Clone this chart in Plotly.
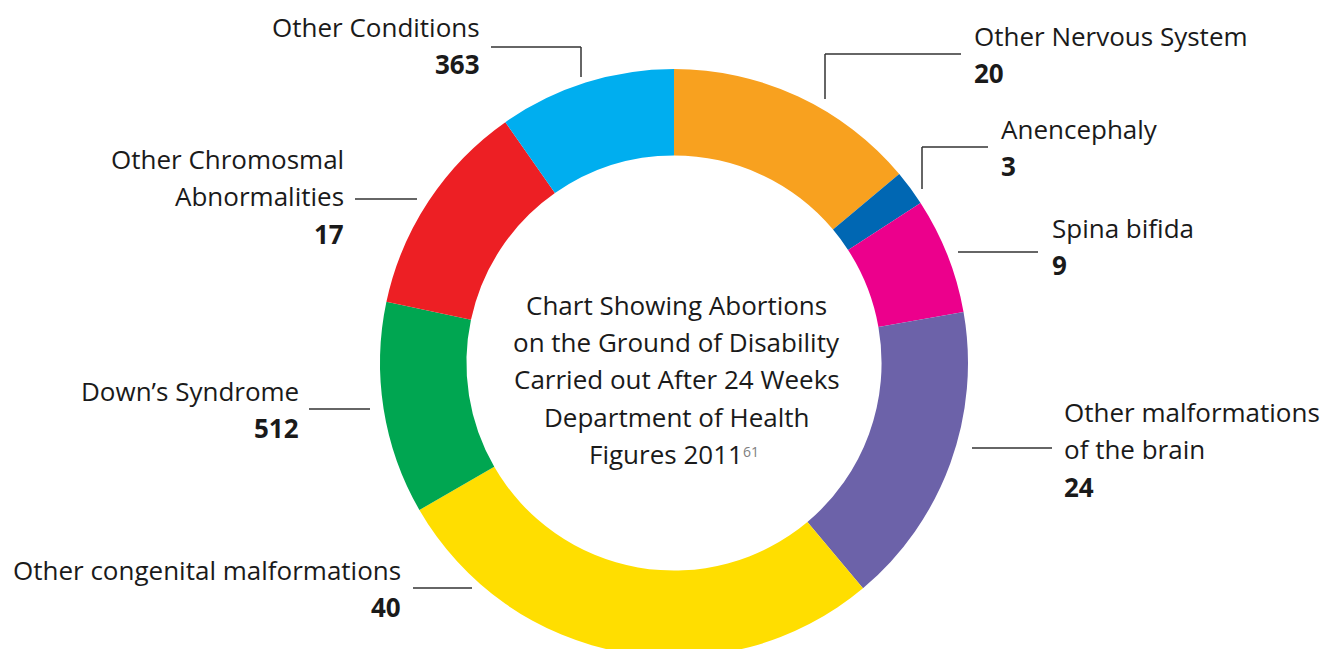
import plotly.graph_objects as go

# ---- data ----
categories = ["Other Nervous System", "Anencephaly", "Spina bifida",
              "Other malformations of the brain", "Other congenital malformations",
              "Down\u2019s Syndrome", "Other Chromosmal Abnormalities", "Other Conditions"]
counts = [20, 3, 9, 24, 40, 512, 17, 363]
# slice sizes as drawn in the picture (degrees of arc, clockwise from 12 o'clock)
slice_degrees = [50, 7, 23, 60, 100, 42, 43, 35]
label_lines = [["Other Nervous System"], ["Anencephaly"], ["Spina bifida"],
               ["Other malformations", "of the brain"], ["Other congenital malformations"],
               ["Down\u2019s Syndrome"], ["Other Chromosmal", "Abnormalities"], ["Other Conditions"]]
colors = ["#F8A11F", "#0067B3", "#EC008C", "#6C62A9", "#FFDE00", "#00A651", "#ED1F24", "#00AEEF"]
title_lines = ["Chart Showing Abortions", "on the Ground of Disability",
               "Carried out After 24 Weeks", "Department of Health", "Figures 2011"]
footnote = "61"

W, H = 1322, 658
FONT = "Open Sans"
FS = 26
LINE = 37.3
TXT = "#1a1a1a"

def px(x):
    return x / W

def py(y):
    return 1 - y / H

cx, cy, R = 674, 363, 294

fig = go.Figure(go.Pie(
    labels=categories, values=slice_degrees, customdata=counts,
    sort=False, direction="clockwise", rotation=0, hole=0.706,
    marker=dict(colors=colors, line=dict(width=0)),
    textinfo="none", showlegend=False,
    hovertemplate="%{label}: %{customdata}<extra></extra>",
    domain=dict(x=[px(cx - R), px(cx + R)], y=[py(cy + R), py(cy - R)]),
))

# label layout: (side, x, first baseline, leader polyline)
layout_spec = [
    ("left", 973, 46, [(825, 99), (825, 54), (961, 54)]),
    ("left", 1000, 139, [(922, 189), (922, 147), (988, 147)]),
    ("left", 1051, 238, [(958, 252), (1038, 252)]),
    ("left", 1063, 422, [(972, 448), (1052, 448)]),
    ("right", 402, 580, [(413, 588), (472, 588)]),
    ("right", 300, 401, [(309, 409), (370, 409)]),
    ("right", 345, 169, [(355, 199), (417, 199)]),
    ("right", 481, 37, [(491, 47), (581, 47), (581, 77)]),
]

annotations = []
shapes = []
BASE_OFF = 10  # baseline to text-box middle

for lines, n, (side, x, b0, pts) in zip(label_lines, counts, layout_spec):
    for i, t in enumerate(lines + [f"<b>{n}</b>"]):
        annotations.append(dict(
            x=px(x), y=py(b0 + i * LINE - BASE_OFF), xref="paper", yref="paper",
            text=t, showarrow=False, xanchor=side, yanchor="middle",
            font=dict(family=FONT, size=FS, color=TXT), borderpad=0))
    for (x0, y0), (x1, y1) in zip(pts[:-1], pts[1:]):
        shapes.append(dict(type="line", xref="paper", yref="paper",
                           x0=px(x0), y0=py(y0), x1=px(x1), y1=py(y1),
                           line=dict(color="#333333", width=1.5)))

tb0 = 315
last = len(title_lines) - 1
for i, t in enumerate(title_lines):
    annotations.append(dict(
        x=px(744 if i == last else 676.5), y=py(tb0 + i * 37.2 - BASE_OFF),
        xref="paper", yref="paper",
        text=t, showarrow=False, xanchor="right" if i == last else "center",
        yanchor="middle", font=dict(family=FONT, size=FS, color=TXT), borderpad=0))

# footnote marker after "Figures 2011"
annotations.append(dict(
    x=px(742), y=py(451), xref="paper", yref="paper",
    text=footnote, showarrow=False, xanchor="left", yanchor="middle",
    font=dict(family=FONT, size=14, color="#808080"), borderpad=0))

fig.update_layout(
    width=W, height=H, margin=dict(l=0, r=0, t=0, b=0),
    paper_bgcolor="white", plot_bgcolor="white",
    annotations=annotations, shapes=shapes,
)

fig.write_html("out.html", post_script="document.documentElement.style.overflow='hidden';document.body.style.overflow='hidden';")
